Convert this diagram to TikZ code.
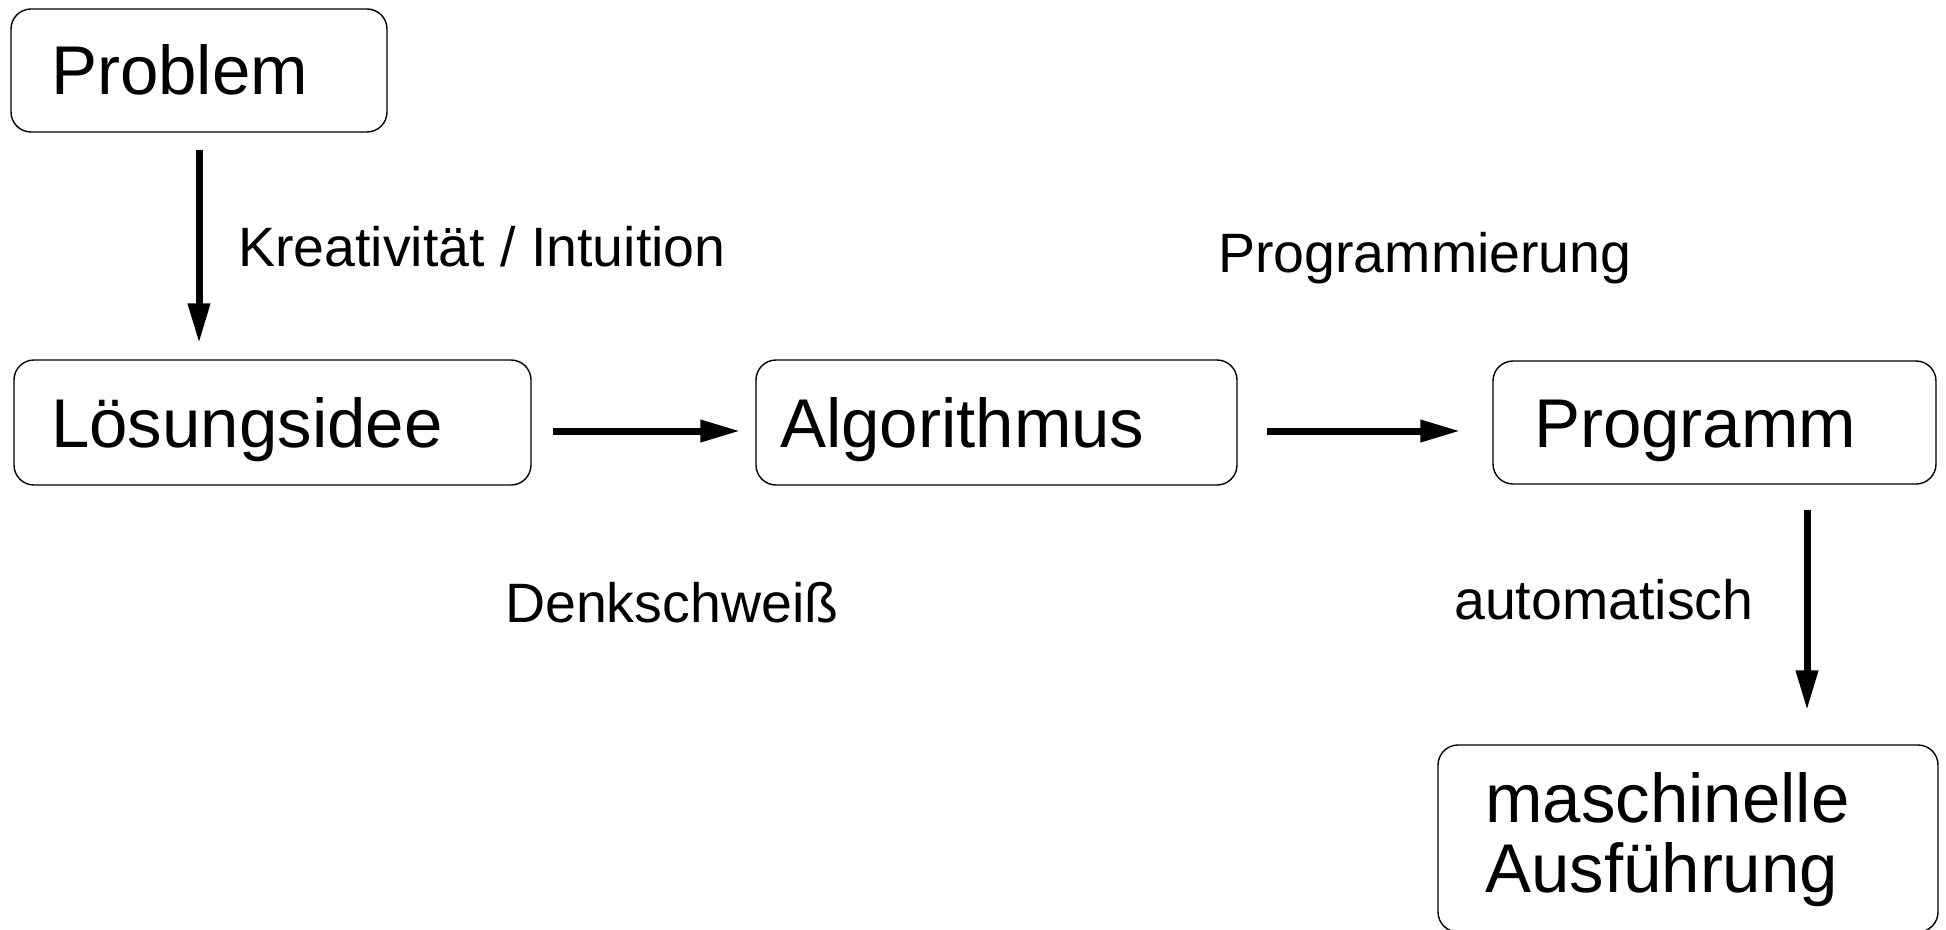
\documentclass[tikz,border=0pt]{standalone}
\usepackage{fontspec}
\setmainfont{Liberation Sans}
\usetikzlibrary{arrows.meta}
\begin{document}
\begin{tikzpicture}[x=1pt,y=-1pt,
  box/.style={draw, rounded corners=20pt, line width=1.4pt, inner sep=0pt},
  big/.style={inner sep=0pt, anchor=base west, align=left, font=\fontsize{69}{70}\selectfont},
  small/.style={inner sep=0pt, anchor=base west, font=\fontsize{55.5}{60}\selectfont},
  arr/.style={line width=7pt, -{Triangle[length=40pt,width=21pt]}}]
\useasboundingbox (0,0) rectangle (1946,929);
% boxes
\node[box, minimum width=376pt, minimum height=123pt] (prob)  at (199,70.5) {};
\node[box, minimum width=517pt, minimum height=125pt] (loes)  at (272.5,422.5) {};
\node[box, minimum width=481pt, minimum height=125pt] (algo)  at (996.5,422.5) {};
\node[box, minimum width=443pt, minimum height=123pt] (prog)  at (1714.5,422.5) {};
\node[box, minimum width=500pt, minimum height=187pt] (masch) at (1688,838.5) {};
% box texts
\node[big] (tprob)  at (51,94)    {Problem};
\node[big] (tloes)  at (51,447)   {Lösungsidee};
\node[big] (talgo)  at (780,447)  {Algorithmus};
\node[big] (tprog)  at (1534,447) {Programm};
\node[big] (tmasch) at (1485,892) {maschinelle\\Ausführung};
% labels
\node[small] (lkrea) at (238,266)  {Kreativität / Intuition};
\node[small] (lprog) at (1218,272) {Programmierung};
\node[small] (ldenk) at (505,622)  {Denkschweiß};
\node[small] (lauto) at (1454,619) {automatisch};
% arrows
\draw[arr, shorten <=17pt, shorten >=16pt] (prob.south) -- (prob.south |- loes.north);
\draw[arr, shorten <=21pt, shorten >=15pt] ([yshift=-8.5pt]loes.east) -- ([yshift=-8.5pt]algo.west);
\draw[arr, shorten <=29pt, shorten >=32pt] ([yshift=-8.5pt]algo.east) -- ([yshift=-8.5pt]prog.west);
\draw[arr, shorten <=25pt, shorten >=34pt] ([xshift=92.5pt]prog.south) -- ([xshift=92.5pt]prog.south |- masch.north);
\end{tikzpicture}
\end{document}
